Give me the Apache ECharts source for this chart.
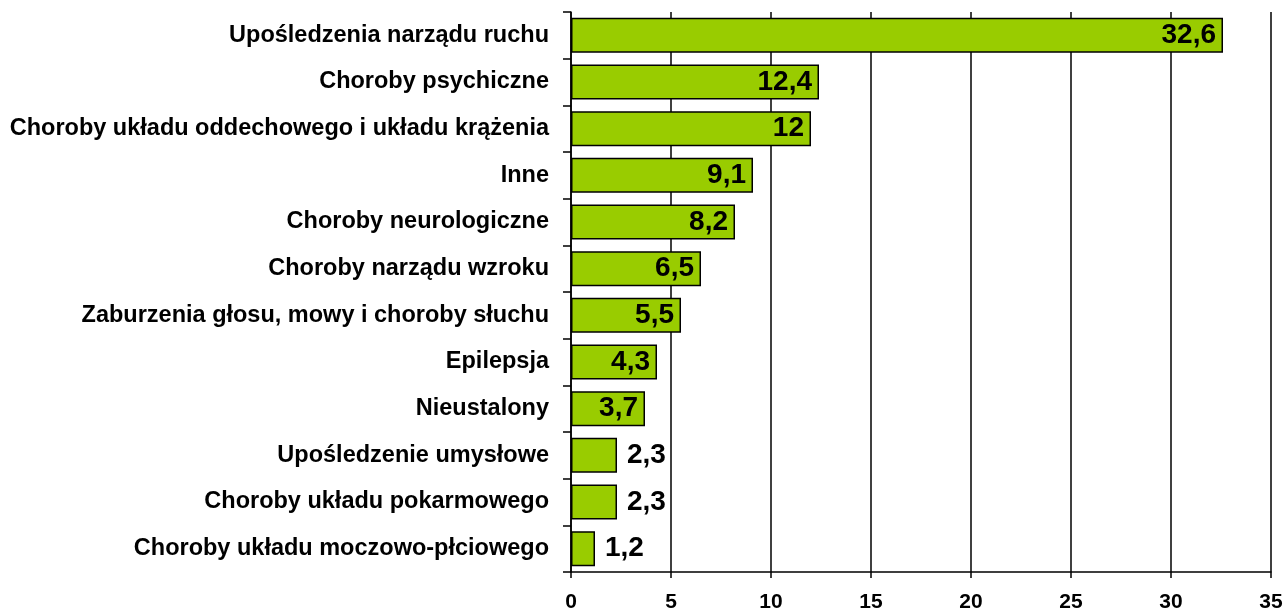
<!DOCTYPE html>
<html>
<head>
<meta charset="utf-8">
<script src="https://cdn.jsdelivr.net/npm/echarts@6/dist/echarts.min.js"></script>
<style>
html,body{margin:0;padding:0;background:#fff;}
#chart{width:1286px;height:613px;}
</style>
</head>
<body>
<div id="chart"></div>
<script>
// kategorie (od góry)
const categories=[
"Upośledzenia narządu ruchu",
"Choroby psychiczne",
"Choroby układu oddechowego i układu krążenia",
"Inne",
"Choroby neurologiczne",
"Choroby narządu wzroku",
"Zaburzenia głosu, mowy i choroby słuchu",
"Epilepsja",
"Nieustalony",
"Upośledzenie umysłowe",
"Choroby układu pokarmowego",
"Choroby układu moczowo-płciowego"
];

const values=[32.6,12.4,12,9.1,8.2,6.5,5.5,4.3,3.7,2.3,2.3,1.2];

const xTicks=[0,5,10,15,20,25,30,35];


let chart=echarts.init(document.getElementById("chart"));

const font="'Liberation Sans', Arial, sans-serif";

chart.setOption({

animation:false,

grid:{
left:571,
right:15,
top:12,
bottom:41
},

xAxis:{
type:"value",
min:xTicks[0],
max:xTicks[xTicks.length-1],
interval:5,
axisLine:{show:true,lineStyle:{color:"#000",width:1.5}},
axisTick:{show:true,length:6,lineStyle:{color:"#000",width:1.5}},
splitLine:{show:true,lineStyle:{color:"#000",width:1.5}},
axisLabel:{
margin:20,
color:"#000",
fontFamily:font,
fontWeight:"bold",
fontSize:21
}
},

yAxis:{
type:"category",
inverse:true,
data:categories,
axisLine:{show:true,lineStyle:{color:"#000",width:1.5}},
axisTick:{show:true,length:8,lineStyle:{color:"#000",width:1.5}},
axisLabel:{
margin:22,
color:"#000",
fontFamily:font,
fontWeight:"bold",
fontSize:23.5
}
},

series:[{
type:"bar",
barCategoryGap:"25%",
itemStyle:{
color:"#99CC00",
borderColor:"#000",
borderWidth:1.5
},
data:values.map(v=>({
value:v,
label:{
show:true,
position:v>=3?"insideRight":"right",
distance:v>=3?7:10,
formatter:p=>String(p.value).replace(".",","),
color:"#000",
fontFamily:font,
fontWeight:"bold",
fontSize:28
}
}))
}]

});
</script>
</body>
</html>
